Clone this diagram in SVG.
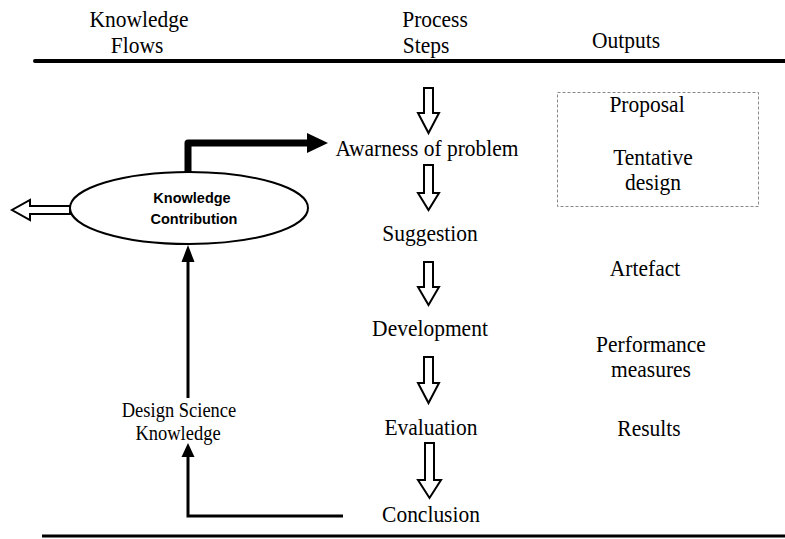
<svg xmlns="http://www.w3.org/2000/svg" width="785" height="539" viewBox="0 0 785 539">
<style>
.t{font-family:"Liberation Serif","Times New Roman",serif;font-size:21.5px;fill:#000;text-anchor:middle}
.s{font-family:"Liberation Serif","Times New Roman",serif;font-size:18.5px;fill:#000;text-anchor:middle}
.b{font-family:"Liberation Sans",Arial,sans-serif;font-size:14.5px;font-weight:bold;fill:#000;text-anchor:middle}
.hollow{fill:#fff;stroke:#000;stroke-width:2;stroke-linejoin:miter}
.conn{fill:none;stroke:#000}
</style>
<rect width="785" height="539" fill="#fff"/>

<g id="header">
<text class="t" transform="translate(139,27) scale(1,1.12)">Knowledge</text>
<text class="t" transform="translate(137,53) scale(1,1.12)">Flows</text>
<text class="t" transform="translate(435,27) scale(1,1.12)">Process</text>
<text class="t" transform="translate(426,53) scale(1,1.12)">Steps</text>
<text class="t" transform="translate(626,48) scale(1,1.12)">Outputs</text>
<line x1="35" y1="61" x2="785" y2="61" stroke="#000" stroke-width="4" stroke-linecap="round"/>
<line x1="42" y1="536" x2="785" y2="536" stroke="#000" stroke-width="3"/>
</g>

<g id="step-awareness"><text class="t" transform="translate(427,156) scale(1,1.12)">Awarness of problem</text></g>
<g id="step-suggestion"><text class="t" transform="translate(430,241) scale(1,1.12)">Suggestion</text></g>
<g id="step-development"><text class="t" transform="translate(430,336) scale(1,1.12)">Development</text></g>
<g id="step-evaluation"><text class="t" transform="translate(431,435) scale(1,1.12)">Evaluation</text></g>
<g id="step-conclusion"><text class="t" transform="translate(431,522) scale(1,1.12)">Conclusion</text></g>

<g id="outputs">
<rect x="557.5" y="92.5" width="201" height="114" fill="none" stroke="#888" stroke-width="1" stroke-dasharray="3,2"/>
<text class="t" transform="translate(647,112) scale(1,1.12)">Proposal</text>
<text class="t" transform="translate(653,165) scale(1,1.12)">Tentative</text>
<text class="t" transform="translate(653,190) scale(1,1.12)">design</text>
<text class="t" transform="translate(645,276) scale(1,1.12)">Artefact</text>
<text class="t" transform="translate(651,352) scale(1,1.12)">Performance</text>
<text class="t" transform="translate(651,377) scale(1,1.12)">measures</text>
<text class="t" transform="translate(649,436) scale(1,1.12)">Results</text>
</g>

<g id="knowledge-contribution">
<ellipse cx="189" cy="208" rx="119" ry="36" fill="#fff" stroke="#000" stroke-width="2"/>
<text class="b" x="192" y="203">Knowledge</text>
<text class="b" x="194" y="224">Contribution</text>
</g>

<g id="design-science-knowledge">
<text class="s" transform="translate(179,417) scale(1,1.1)">Design Science</text>
<text class="s" transform="translate(178,440) scale(1,1.1)">Knowledge</text>
</g>

<g id="connectors">
<path class="hollow" d="M424,88 H433 V113 H439 L428.5,133 L418,113 H424 Z"/>
<path class="hollow" d="M424,165 H433 V193 H439 L428.5,210 L418,193 H424 Z"/>
<path class="hollow" d="M424,262 H433 V287 H439 L428.5,305 L418,287 H424 Z"/>
<path class="hollow" d="M424,357 H433 V383 H439 L428.5,403 L418,383 H424 Z"/>
<path class="hollow" d="M425,443 H434 V480 H441 L429.5,498 L418,480 H425 Z"/>
<path class="hollow" d="M70,206 H30 V200 L12,210 L30,220 V214 H70 Z"/>
<path class="conn" d="M188,172 V143 H310" stroke-width="7" stroke-linejoin="round"/>
<path d="M307,133 L328,143 L307,153 Z" fill="#000"/>
<path class="conn" d="M188,398 V260" stroke-width="3"/>
<path d="M181.5,262 L188,245 L194.5,262 Z" fill="#000"/>
<path class="conn" d="M343,516 H188 V455" stroke-width="3"/>
<path d="M181.5,457 L188,443 L194.5,457 Z" fill="#000"/>
</g>
</svg>
